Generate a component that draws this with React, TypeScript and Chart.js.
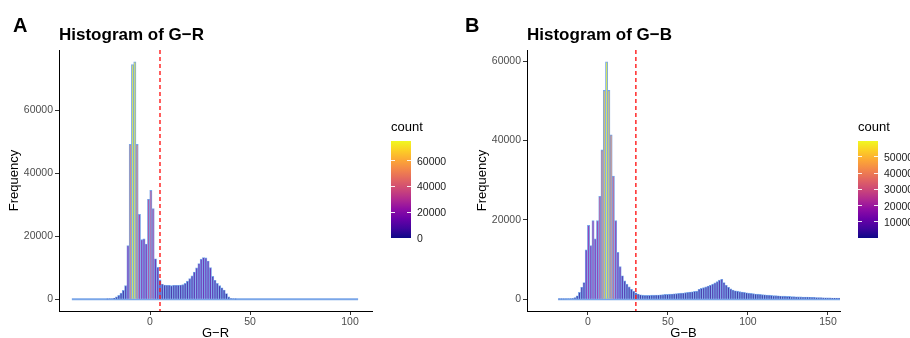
import React, { useEffect, useRef } from "react";
import { Chart, registerables } from "chart.js";

Chart.register(...registerables);

const FONT = "'Liberation Sans', Arial, Helvetica, sans-serif";
Chart.defaults.font.family = FONT;

// ---------- Data: G−R histogram ----------
const GR_BIN_START = -38.5; // centre of first bin
const GR_BIN_WIDTH = 1.145;
const GR_COUNTS = [
  0, 0, 0, 0, 0, 0, 0, 0, 0, 0, 0, 0, 0, 0, 0,
  20, 60, 150, 350, 700, 1200, 1900, 2800, 4300, 17000,
  49100, 74400, 75300, 49100, 26900, 18900, 19100, 17500, 31700, 34500,
  28700, 12800, 10100, 6100, 4800, 4500, 4400, 4400, 4300, 4400,
  4400, 4400, 4500, 4600, 5000, 5700, 6500, 7400, 8600, 9900,
  11300, 12700, 13200, 13100, 12100, 10000, 7200, 6000, 5000, 4300,
  3600, 2900, 1800, 700, 200, 60, 20,
  0, 0, 0, 0, 0, 0, 0, 0, 0, 0, 0, 0, 0, 0, 0, 0, 0, 0, 0, 0, 0, 0, 0, 0, 0, 0,
  0, 0, 0, 0, 0, 0, 0, 0, 0, 0, 0, 0, 0, 0, 0, 0, 0, 0, 0, 0, 0, 0, 0, 0, 0, 0,
  0,
];
const GR_THRESHOLD = 5;
const GR_X_RANGE = [-45.5, 111];
const GR_X_TICKS = [0, 50, 100];
const GR_Y_TICKS = [0, 20000, 40000, 60000];
const GR_LEGEND_TICKS = [0, 20000, 40000, 60000];

// ---------- Data: G−B histogram ----------
const GB_BIN_START = -17.9;
const GB_BIN_WIDTH = 1.41;
const GB_COUNTS = [
  10, 10, 20, 30, 50, 80, 150, 400, 850, 1700,
  3000, 4200, 12400, 18600, 13500, 19800, 15200, 19800, 25900, 37600,
  52600, 59800, 52600, 41400, 31000, 19800, 11800, 8200, 5900, 4600,
  3800, 3100, 2500, 2000, 1600, 1300, 1100, 1000, 950, 950,
  950, 1000, 1000, 1050, 1050, 1100, 1150, 1200, 1200, 1250,
  1300, 1350, 1400, 1450, 1500, 1550, 1650, 1700, 1800, 1850,
  1950, 2000, 2500, 2700, 2900, 3100, 3300, 3500, 3800, 4100,
  4400, 4800, 5000, 4200, 3500, 3000, 2600, 2300, 2100, 2000,
  1900, 1800, 1700, 1600, 1500, 1450, 1400, 1300, 1250, 1200,
  1150, 1100, 1050, 1000, 950, 900, 870, 840, 800, 770,
  740, 710, 680, 650, 620, 600, 580, 560, 540, 520,
  500, 480, 460, 440, 420, 400, 380, 360, 340, 320,
  300, 290, 280, 270, 260,
];
const GB_THRESHOLD = 30;
const GB_X_RANGE = [-38, 157.5];
const GB_X_TICKS = [0, 50, 100, 150];
const GB_Y_TICKS = [0, 20000, 40000, 60000];
const GB_LEGEND_TICKS = [10000, 20000, 30000, 40000, 50000];

const PLASMA = [
  "#0d0887", "#41049d", "#6a00a8", "#8f0da4", "#b12a90", "#cc4778",
  "#e16462", "#f2844b", "#fca636", "#fcce25", "#f0f921",
];

function hexToRgb(h: string) {
  const n = parseInt(h.slice(1), 16);
  return [(n >> 16) & 255, (n >> 8) & 255, n & 255];
}

function plasma(t: number, alpha: number) {
  const tt = Math.max(0, Math.min(1, t)) * (PLASMA.length - 1);
  const i = Math.min(PLASMA.length - 2, Math.floor(tt));
  const f = tt - i;
  const a = hexToRgb(PLASMA[i]);
  const b = hexToRgb(PLASMA[i + 1]);
  const c = a.map((v, k) => Math.round(v + (b[k] - v) * f));
  return `rgba(${c[0]},${c[1]},${c[2]},${alpha})`;
}

const OUTLINE = "rgba(122,166,232,1)";

const vlinePlugin = {
  id: "vline",
  afterDatasetsDraw(chart: any, _args: any, opts: any) {
    const x = chart.scales.x.getPixelForValue(opts.value);
    const { top, bottom } = chart.chartArea;
    const ctx = chart.ctx;
    ctx.save();
    ctx.strokeStyle = "#ff1a1a";
    ctx.lineWidth = 1.4;
    ctx.setLineDash([4, 3]);
    ctx.beginPath();
    ctx.moveTo(x, top);
    ctx.lineTo(x, bottom);
    ctx.stroke();
    ctx.restore();
  },
};

type PanelProps = {
  counts: number[];
  binStart: number;
  binWidth: number;
  xRange: number[];
  xTicks: number[];
  yTicks: number[];
  threshold: number;
  xTitle: string;
  left: number;
  width: number;
  padRight: number;
};

function HistPanel(p: PanelProps) {
  const ref = useRef<HTMLCanvasElement | null>(null);
  useEffect(() => {
    if (!ref.current) return;
    const max = Math.max(...p.counts);
    const n = p.counts.length;
    const tickFont = { size: 10.5 };
    const chart = new Chart(ref.current, {
      type: "bar",
      data: {
        datasets: [
          {
            type: "bar",
            data: p.counts.map((c, i) => ({ x: p.binStart + i * p.binWidth, y: c })),
            backgroundColor: p.counts.map((c) => plasma(c / max, 0.68)),
            borderColor: OUTLINE,
            borderWidth: 0.9,
            barPercentage: 1,
            categoryPercentage: 1,
            grouped: false,
            order: 1,
          } as any,
          {
            type: "line",
            data: [
              { x: p.binStart - p.binWidth / 2, y: 0 },
              { x: p.binStart + (n - 1) * p.binWidth + p.binWidth / 2, y: 0 },
            ],
            borderColor: OUTLINE,
            borderWidth: 2,
            pointRadius: 0,
            order: 2,
          } as any,
        ],
      },
      options: {
        responsive: false,
        animation: false,
        events: [],
        layout: { padding: { left: 0, right: p.padRight, top: 50, bottom: 0 } },
        plugins: {
          legend: { display: false },
          tooltip: { enabled: false },
          vline: { value: p.threshold },
        } as any,
        scales: {
          x: {
            type: "linear",
            min: p.xRange[0],
            max: p.xRange[1],
            offset: false,
            grid: {
              display: true,
              drawOnChartArea: false,
              drawTicks: true,
              tickLength: 4,
              color: "#333333",
              offset: false,
            },
            border: { display: true, color: "#000000", width: 1 },
            ticks: {
              color: "#4d4d4d",
              font: tickFont,
              padding: 1,
              maxRotation: 0,
              autoSkip: false,
              callback: (v: any) => String(v),
            },
            afterBuildTicks: (s: any) => {
              s.ticks = p.xTicks.map((v) => ({ value: v }));
            },
            title: {
              display: true,
              text: p.xTitle,
              color: "#000000",
              font: { size: 13, lineHeight: 1 },
              padding: 0,
            },
            afterFit: (s: any) => {
              s.height = 29;
            },
          },
          y: {
            type: "linear",
            min: -max * 0.05,
            max: max * 1.05,
            grid: {
              display: true,
              drawOnChartArea: false,
              drawTicks: true,
              tickLength: 4,
              color: "#333333",
            },
            border: { display: true, color: "#000000", width: 1 },
            ticks: {
              color: "#4d4d4d",
              font: tickFont,
              padding: 2,
              callback: (v: any) => String(v),
            },
            afterBuildTicks: (s: any) => {
              s.ticks = p.yTicks.map((v) => ({ value: v }));
            },
            title: {
              display: true,
              text: "Frequency",
              color: "#000000",
              font: { size: 13, lineHeight: 1 },
              padding: { top: 8, bottom: 0 },
            },
            afterFit: (s: any) => {
              s.width = 59;
            },
          },
        },
      } as any,
      plugins: [vlinePlugin],
    });
    return () => chart.destroy();
  }, []);
  return (
    <canvas
      ref={ref}
      width={p.width}
      height={340}
      style={{ position: "absolute", left: p.left, top: 0, width: p.width, height: 340 }}
    />
  );
}

function ColorBar(props: { left: number; counts: number[]; ticks: number[] }) {
  const top = 141;
  const height = 97;
  const width = 20;
  const max = Math.max(...props.counts);
  const min = 0;
  const yOf = (v: number) => top + height - ((v - min) / (max - min)) * height;
  return (
    <>
      <div
        style={{
          position: "absolute",
          left: props.left,
          top: 120,
          fontSize: 13,
          lineHeight: "13px",
          color: "#000",
          whiteSpace: "nowrap",
        }}
      >
        count
      </div>
      <div
        style={{
          position: "absolute",
          left: props.left,
          top,
          width,
          height,
          background: `linear-gradient(to top, ${PLASMA.join(",")})`,
        }}
      />
      {props.ticks.map((t) => (
        <React.Fragment key={t}>
          <div
            style={{
              position: "absolute",
              left: props.left,
              top: yOf(t) - 0.5,
              width: 4,
              height: 1,
              background: "rgba(255,255,255,0.9)",
            }}
          />
          <div
            style={{
              position: "absolute",
              left: props.left + width - 4,
              top: yOf(t) - 0.5,
              width: 4,
              height: 1,
              background: "rgba(255,255,255,0.9)",
            }}
          />
          <div
            style={{
              position: "absolute",
              left: props.left + width + 6,
              top: yOf(t),
              transform: "translateY(-50%)",
              fontSize: 10.5,
              lineHeight: "10.5px",
              color: "#1a1a1a",
              whiteSpace: "nowrap",
            }}
          >
            {String(t)}
          </div>
        </React.Fragment>
      ))}
    </>
  );
}

const tagStyle = (left: number): React.CSSProperties => ({
  position: "absolute",
  left,
  top: 15,
  fontSize: 20,
  lineHeight: "20px",
  fontWeight: "bold",
  color: "#000",
});

const titleStyle = (left: number): React.CSSProperties => ({
  position: "absolute",
  left,
  top: 26,
  fontSize: 17,
  lineHeight: "17px",
  fontWeight: "bold",
  color: "#000",
  whiteSpace: "nowrap",
});

export default function App() {
  return (
    <div
      style={{
        position: "fixed",
        left: 0,
        top: 0,
        width: 910,
        height: 338,
        overflow: "hidden",
        background: "#ffffff",
        fontFamily: FONT,
      }}
    >
      <HistPanel
        counts={GR_COUNTS}
        binStart={GR_BIN_START}
        binWidth={GR_BIN_WIDTH}
        xRange={GR_X_RANGE}
        xTicks={GR_X_TICKS}
        yTicks={GR_Y_TICKS}
        threshold={GR_THRESHOLD}
        xTitle="G−R"
        left={0}
        width={455}
        padRight={83}
      />
      <HistPanel
        counts={GB_COUNTS}
        binStart={GB_BIN_START}
        binWidth={GB_BIN_WIDTH}
        xRange={GB_X_RANGE}
        xTicks={GB_X_TICKS}
        yTicks={GB_Y_TICKS}
        threshold={GB_THRESHOLD}
        xTitle="G−B"
        left={468}
        width={442}
        padRight={70}
      />
      <div style={tagStyle(13)}>A</div>
      <div style={titleStyle(59)}>Histogram of G−R</div>
      <div style={tagStyle(465)}>B</div>
      <div style={titleStyle(527)}>Histogram of G−B</div>
      <ColorBar left={391} counts={GR_COUNTS} ticks={GR_LEGEND_TICKS} />
      <ColorBar left={858} counts={GB_COUNTS} ticks={GB_LEGEND_TICKS} />
    </div>
  );
}
